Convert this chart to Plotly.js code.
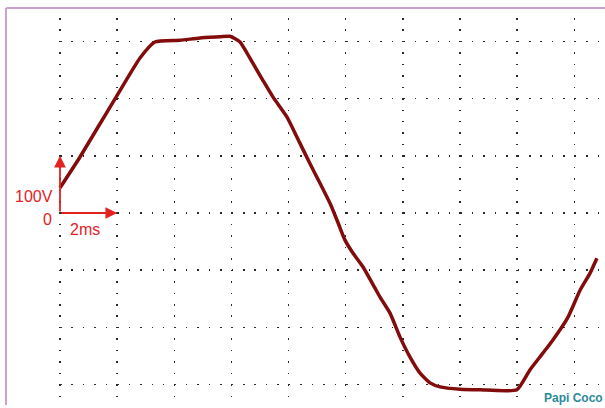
<!DOCTYPE html>
<html>
<head>
<meta charset="utf-8">
<script src="https://cdn.plot.ly/plotly-3.0.1.min.js"></script>
<style>
  html, body { margin: 0; padding: 0; background: #ffffff; }
  #chart { width: 605px; height: 408px; }
</style>
</head>
<body>
<div id="chart"></div>
<script>
// time in ms, voltage in V (one grid division = 2 ms, 100 V)
const timeMs = [0, 0.70, 1.40, 1.92, 2.80, 3.32, 4.20, 4.90, 5.60, 5.95, 6.30, 6.54, 6.75, 7.10, 7.45, 7.94, 8.29, 8.75, 9.10, 9.45, 9.73, 9.97, 10.25, 10.60, 11.02, 11.20, 11.55, 11.90, 12.25, 12.60, 12.95, 13.30, 14.00, 14.70, 15.99, 16.45, 16.90, 17.25, 17.78, 18.20, 18.55, 18.79];
const voltage = [44, 98, 156, 199, 271, 299, 302, 306, 308, 309, 299, 280, 262, 232, 203, 168, 133, 86, 52, 17, -17, -47, -70, -94, -131, -147, -175, -217, -252, -280, -297, -304, -308, -309, -309, -274, -245, -222, -182, -135, -105, -79];

const voltScaleLabel = '100V';
const timeScaleLabel = '2ms';
const originLabel = '0';
const signature = 'Papi Coco';
const voltDiv = 100;
const timeDiv = 2;

const red = '#e3211f';
const font = 'Liberation Sans, Arial, sans-serif';

const trace = {
  x: timeMs,
  y: voltage,
  type: 'scatter',
  mode: 'lines',
  line: { color: '#820c0c', width: 3.5, shape: 'spline', smoothing: 0.5 },
  hoverinfo: 'skip',
  cliponaxis: false
};

const layout = {
  width: 605,
  height: 408,
  margin: { l: 57, r: 0, t: 18, b: 8, pad: 0 },
  paper_bgcolor: '#ffffff',
  plot_bgcolor: '#ffffff',
  showlegend: false,
  xaxis: {
    range: [-0.105, 19.073],
    tick0: 0,
    dtick: timeDiv,
    showticklabels: false,
    ticks: '',
    zeroline: false,
    showline: false,
    showgrid: true,
    gridcolor: '#2a2a2a',
    gridwidth: 1.5,
    griddash: '1.5px,9.94px',
    fixedrange: true
  },
  yaxis: {
    range: [-326.9, 340.9],
    tick0: 0,
    dtick: voltDiv,
    showticklabels: false,
    ticks: '',
    zeroline: false,
    showline: false,
    showgrid: true,
    gridcolor: '#2a2a2a',
    gridwidth: 1.5,
    griddash: '0px,3px,1.5px,6.94px',
    fixedrange: true
  },
  shapes: [
    { type: 'line', xref: 'paper', yref: 'paper', x0: -0.0931, x1: -0.0931, y0: -0.013, y1: 1.026,
      line: { color: '#c9a3cd', width: 2 } },
    { type: 'line', xref: 'paper', yref: 'paper', x0: -0.0931, x1: 1.01, y0: 1.026, y1: 1.026,
      line: { color: '#c9a3cd', width: 2 } }
  ],
  annotations: [
    { x: 0, y: voltDiv, xref: 'x', yref: 'y', ax: 0, ay: 0, axref: 'x', ayref: 'y',
      text: '', showarrow: true, arrowhead: 2, arrowsize: 1.3, arrowwidth: 1.8, arrowcolor: red, standoff: 0 },
    { x: timeDiv, y: 0, xref: 'x', yref: 'y', ax: 0, ay: 0, axref: 'x', ayref: 'y',
      text: '', showarrow: true, arrowhead: 2, arrowsize: 1.3, arrowwidth: 1.8, arrowcolor: red, standoff: 0 },
    { x: 0, y: 28, xref: 'x', yref: 'y', xanchor: 'right', yanchor: 'middle', xshift: -5,
      text: voltScaleLabel, showarrow: false, font: { family: font, size: 16, color: red } },
    { x: 0, y: -12, xref: 'x', yref: 'y', xanchor: 'right', yanchor: 'middle', xshift: -6,
      text: originLabel, showarrow: false, font: { family: font, size: 16, color: red } },
    { x: 0.35, y: -28, xref: 'x', yref: 'y', xanchor: 'left', yanchor: 'middle', xshift: -2,
      text: timeScaleLabel, showarrow: false, font: { family: font, size: 16, color: red } },
    { x: 1, y: 0, xref: 'paper', yref: 'paper', xanchor: 'right', yanchor: 'middle', xshift: 0, yshift: 2,
      text: '<b>' + signature + '</b>', showarrow: false, font: { family: font, size: 12, color: '#2b8a99' } }
  ]
};

Plotly.newPlot('chart', [trace], layout, { staticPlot: true, displayModeBar: false });
</script>
</body>
</html>
